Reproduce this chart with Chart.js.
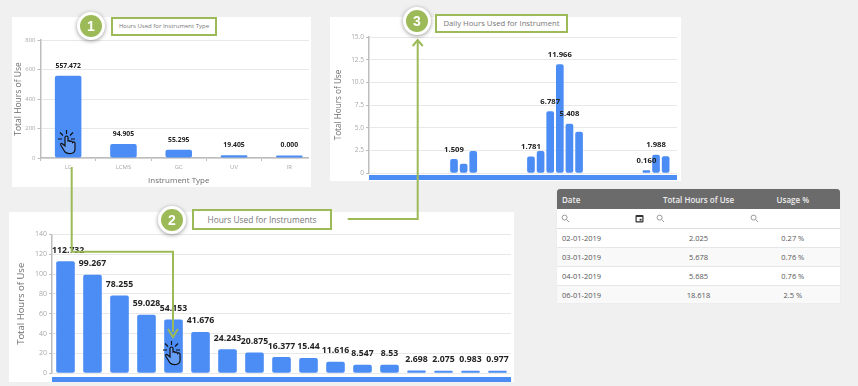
<!DOCTYPE html>
<html>
<head>
<meta charset="utf-8">
<title>Instrument usage</title>
<script src="https://cdn.jsdelivr.net/npm/chart.js@4"></script>
<style>
  html, body { margin: 0; padding: 0; background: #f0f0f0; }
  body { width: 858px; height: 386px; position: relative; overflow: hidden; font-family: "Open Sans", sans-serif; filter: blur(0.3px); }
  .panel { position: absolute; background: #fff; }
  .clip { position: absolute; overflow: hidden; }
  canvas { position: absolute; left: 0; top: 0; }
  .strip { position: absolute; background: #4c8df5; }
  .dot { position: absolute; width: 22px; height: 22px; line-height: 22px; border-radius: 50%; background: #9cbb58;
         border: 3px solid #fff; box-shadow: 0 1px 4px rgba(0,0,0,.4); color: #fff; font: bold 14px/22px "Liberation Sans", sans-serif; text-align: center; }
  .callout { position: absolute; box-sizing: border-box; background: #fff; border: 2px solid #9cbb58; color: #777; text-align: center; white-space: nowrap; }
  #lines { position: absolute; left: 0; top: 0; }
  #tableBox { position: absolute; left: 557px; top: 189px; width: 283px; height: 114px; background: #fff; overflow: hidden; box-shadow: 0 0 2px #e6e6e6; }
  #tableBox table { width: 100%; border-collapse: collapse; table-layout: fixed; font-size: 7.5px; color: #555; }
  #tableBox th { background: #6b6b6b; color: #eee; height: 20px; padding: 0; font-size: 8px; font-weight: 600; }
  #tableBox th:first-child { border-top-left-radius: 3px; text-align: left; padding-left: 5px; }
  #tableBox th:last-child { border-top-right-radius: 3px; }
  #tableBox .search td { height: 19px; padding: 0; border-bottom: 1px solid #ddd; position: relative; }
  #tableBox .search svg { position: absolute; top: 5px; }
  #tableBox .row td { height: 18px; padding: 0; text-align: center; border-bottom: 1px solid #e6e6e6; }
  #tableBox .row td:first-child { text-align: left; padding-left: 5px; }
  #tableBox .row:nth-child(odd) td { background: #f9f9f9; }
</style>
</head>
<body>

<div class="panel" style="left:12px;top:17px;width:299px;height:170px"></div>
<div class="panel" style="left:330px;top:17px;width:351px;height:164px"></div>
<div class="panel" style="left:9px;top:212px;width:505px;height:170px"></div>

<div class="clip" style="left:12px;top:17px;width:297px;height:170px"><canvas id="typeChart"></canvas></div>
<div class="clip" style="left:330px;top:17px;width:351px;height:164px"><canvas id="dailyChart"></canvas></div>
<div class="clip" style="left:9px;top:212px;width:505px;height:170px"><canvas id="instrumentChart"></canvas></div>

<div class="strip" style="left:369px;top:175px;width:308px;height:5px"></div>
<div class="strip" style="left:52px;top:377px;width:459px;height:5px"></div>

<div id="tableBox">
  <table>
    <thead><tr><th>Date</th><th>Total Hours of Use</th><th>Usage %</th></tr></thead>
    <tbody id="tableBody"></tbody>
  </table>
</div>

<svg id="lines" width="858" height="386">
  <defs>
    <g id="hand">
      <path d="M-2 -3 V6 L-5 3.5 Q-7 3 -6 5.5 L-2 12 Q0 14 4 13.5 Q8 13 8 9 V3 Q7 1 5.5 2.5 Q5 0.5 3 1.5 Q2.5 0 1 1 V-3 Q-0.5 -5 -2 -3 Z" fill="#fff" fill-opacity=".15" stroke="#111" stroke-width="1.2"/>
      <path d="M-0.5 -6 V-10 M-4 -4.5 L-7 -7.5 M3 -4.5 L6 -7.5 M-5 -1 H-9 M4 -1 H8" stroke="#111" stroke-width="1.2" fill="none"/>
    </g>
  </defs>
  <path d="M71.7 167 V251.7 H173 V332" fill="none" stroke="#9cbb58" stroke-width="2"/>
  <path d="M168 329 L173 337 L178 329" fill="none" stroke="#9cbb58" stroke-width="2"/>
  <path d="M347.7 219 H417.7 V42" fill="none" stroke="#9cbb58" stroke-width="2"/>
  <path d="M412.7 46 L417.7 40 L422.7 46" fill="none" stroke="#9cbb58" stroke-width="2"/>
  <use href="#hand" x="67" y="140"/>
  <use href="#hand" x="172" y="351"/>
</svg>

<div class="dot" style="left:77px;top:12px">1</div>
<div class="callout" style="left:111px;top:17px;width:106px;height:19px;font-size:6px;line-height:15px">Hours Used for Instrument Type</div>
<div class="dot" style="left:158px;top:206px">2</div>
<div class="callout" style="left:192px;top:209px;width:140px;height:21px;font-size:8.4px;line-height:17px">Hours Used for Instruments</div>
<div class="dot" style="left:403px;top:7px">3</div>
<div class="callout" style="left:435px;top:14px;width:133px;height:19px;font-size:7.7px;line-height:15px">Daily Hours Used for Instrument</div>

<script>
// Horas por tipo de instrumento
const typeLabels = ['LC', 'LCMS', 'GC', 'UV', 'IR'];
const typeHours = [557.472, 94.905, 55.295, 19.405, 0];
const typeTexts = ['557.472', '94.905', '55.295', '19.405', '0.000'];
const typeTicks = [0, 200, 400, 600, 800];

// Horas por instrumento
const instrumentLabels = ['I1', 'I2', 'I3', 'I4', 'I5', 'I6', 'I7', 'I8', 'I9', 'I10', 'I11', 'I12', 'I13', 'I14', 'I15', 'I16', 'I17'];
const instrumentHours = [112.732, 99.267, 78.255, 59.028, 54.153, 41.676, 24.243, 20.875, 16.377, 15.44, 11.616, 8.547, 8.53, 2.698, 2.075, 0.983, 0.977];
const instrumentTexts = ['112.732', '99.267', '78.255', '59.028', '54.153', '41.676', '24.243', '20.875', '16.377', '15.44', '11.616', '8.547', '8.53', '2.698', '2.075', '0.983', '0.977'];

// Horas diarias de un instrumento (enero)
const dailyDays = [9, 10, 11, 17, 18, 19, 20, 21, 22, 29, 30, 31];
const dailyHours = [1.509, 0.98, 2.4, 1.781, 2.4, 6.787, 11.966, 5.408, 4.5, 0.16, 1.988, 1.8];
const dailyTexts = ['1.509', null, null, '1.781', null, '6.787', '11.966', '5.408', null, '0.160', '1.988', null];

// Tabla
const tableDates = ['02-01-2019', '03-01-2019', '04-01-2019', '06-01-2019'];
const tableHours = ['2.025', '5.678', '5.685', '18.618'];
const tableUsage = ['0.27 %', '0.76 %', '0.76 %', '2.5 %'];

const barColor = '#4c8df5';
const gridColor = '#e8e8e8';
const axisColor = '#bdbdbd';
const tickColor = '#a8a8a8';
const titleColor = '#6e6e6e';
const fontName = '"Open Sans", sans-serif';

// Etiquetas de valor encima de las barras
const barText = {
  id: 'barText',
  afterDatasetsDraw(chart, args, opts) {
    const ctx = chart.ctx;
    const bars = chart.getDatasetMeta(0).data;
    ctx.save();
    ctx.font = '700 ' + opts.size + 'px ' + fontName;
    ctx.fillStyle = '#222';
    ctx.textAlign = 'center';
    ctx.textBaseline = 'middle';
    opts.texts.forEach((t, i) => {
      if (t === null) return;
      const half = ctx.measureText(t).width / 2;
      const x = Math.max(bars[i].x, chart.chartArea.left + half);
      ctx.fillText(t, x, bars[i].y - opts.gap);
    });
    ctx.restore();
  }
};
Chart.register(barText);

function yScale(max, step, width, titleSize, tickSize, titleOffset, tickFormat) {
  return {
    min: 0,
    max: max,
    afterFit: s => { s.width = width; },
    border: { color: axisColor, width: 1.5 },
    grid: { color: gridColor, lineWidth: 1, tickLength: 3, tickColor: axisColor },
    ticks: { stepSize: step, color: tickColor, padding: 2, font: { size: tickSize, family: fontName }, callback: tickFormat },
    title: { display: true, text: 'Total Hours of Use', color: titleColor, padding: { top: titleOffset, bottom: 0 }, font: { size: titleSize, family: fontName } }
  };
}

function makeChart(id, w, h, data, scales, padding, texts, labelSize, gap) {
  const canvas = document.getElementById(id);
  canvas.style.width = w + 'px';
  canvas.style.height = h + 'px';
  return new Chart(canvas, {
    type: 'bar',
    data: data,
    options: {
      responsive: false,
      animation: false,
      layout: { padding: padding },
      scales: scales,
      plugins: {
        legend: { display: false },
        tooltip: { enabled: false },
        barText: { texts: texts, size: labelSize, gap: gap }
      }
    }
  });
}

const barStyle = { backgroundColor: barColor, borderRadius: 2, minBarLength: 2.5, borderSkipped: false };

// Grafico 1: tipo de instrumento
const typeCanvas = document.getElementById('typeChart');
typeCanvas.width = 305; typeCanvas.height = 170;
makeChart('typeChart', 305, 170, {
  labels: typeLabels,
  datasets: [Object.assign({ data: typeHours, barPercentage: 0.48, categoryPercentage: 1 }, barStyle)]
}, {
  x: {
    afterFit: s => { s.height = 29; },
    border: { color: axisColor, width: 1.5 },
    grid: { drawOnChartArea: false, tickLength: 3, tickColor: axisColor },
    ticks: { color: tickColor, padding: 3, maxRotation: 0, autoSkip: false, font: { size: 6, family: fontName } },
    title: { display: true, text: 'Instrument Type', color: titleColor, padding: { top: 0, bottom: 1 }, font: { size: 8, family: fontName } }
  },
  y: yScale(800, 200, 28.5, 8.5, 6, 1, v => typeTicks.includes(v) ? v : '')
}, { top: 23, left: 0, right: 0, bottom: 0 }, typeTexts, 6.8, 10);

// Grafico 2: instrumentos
const instrumentCanvas = document.getElementById('instrumentChart');
instrumentCanvas.width = 505; instrumentCanvas.height = 170;
makeChart('instrumentChart', 505, 170, {
  labels: instrumentLabels,
  datasets: [Object.assign({ data: instrumentHours, barPercentage: 0.69, categoryPercentage: 1 }, barStyle)]
}, {
  x: { display: false },
  y: yScale(140, 20, 43, 9.5, 7, 6.5, v => v)
}, { top: 22.3, left: 0, right: 3, bottom: 8.7 }, instrumentTexts, 8.7, 11);

// Grafico 3: horas diarias
const dailyCanvas = document.getElementById('dailyChart');
dailyCanvas.width = 351; dailyCanvas.height = 164;
makeChart('dailyChart', 351, 164, {
  datasets: [Object.assign({ data: dailyDays.map((d, i) => ({ x: d, y: dailyHours[i] })), barThickness: 7 }, barStyle)]
}, {
  x: { type: 'linear', display: false, offset: false, min: 0.164, max: 32.18 },
  y: yScale(15, 2.5, 39, 8.2, 6.5, 4, v => v === 0 ? '0' : v.toFixed(1))
}, { top: 20, left: 0, right: 4, bottom: 8 }, dailyTexts, 7.7, 10);

// Construir la tabla
const searchIcon = x => '<svg style="left:' + x + 'px" width="9" height="9" viewBox="0 0 9 9"><circle cx="3.6" cy="3.6" r="2.5" fill="none" stroke="#999" stroke-width="1"/><path d="M5.5 5.5 L8 8" stroke="#999" stroke-width="1"/></svg>';
const calendarIcon = '<svg style="left:78px" width="9" height="9" viewBox="0 0 9 9"><rect x="0.5" y="1" width="8" height="7.5" rx="1" fill="#333"/><rect x="1.7" y="3" width="5.6" height="4.2" fill="#fff"/><rect x="4.6" y="4.8" width="2" height="1.8" fill="#333"/></svg>';
let rowsHtml = '<tr class="search"><td>' + searchIcon(4) + calendarIcon + '</td><td>' + searchIcon(5) + '</td><td>' + searchIcon(4) + '</td></tr>';
tableDates.forEach((d, i) => {
  rowsHtml += '<tr class="row"><td>' + d + '</td><td>' + tableHours[i] + '</td><td>' + tableUsage[i] + '</td></tr>';
});
document.getElementById('tableBody').innerHTML = rowsHtml;
</script>
</body>
</html>
